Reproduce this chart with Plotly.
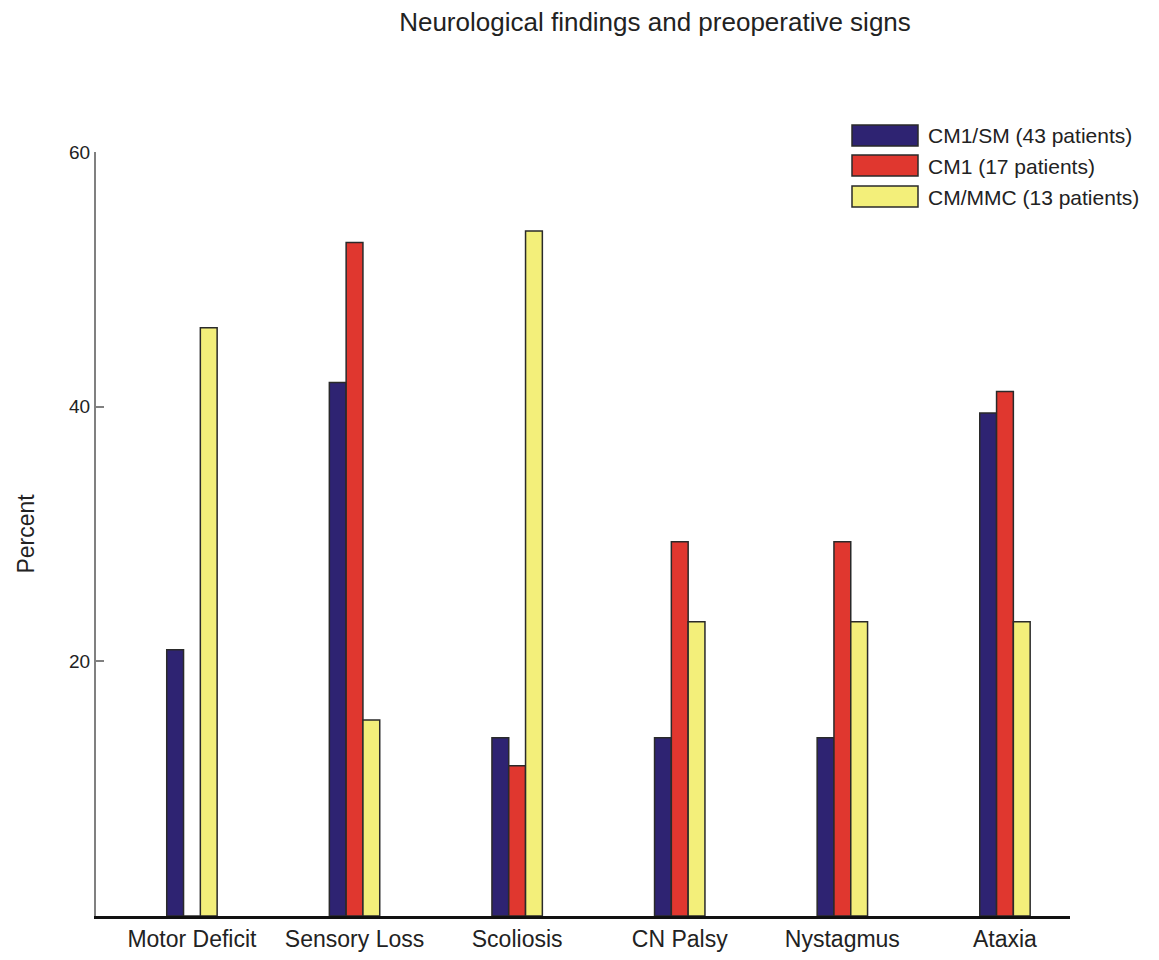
import plotly.graph_objects as go

categories = ["Motor Deficit", "Sensory Loss", "Scoliosis", "CN Palsy", "Nystagmus", "Ataxia"]
series_names = ["CM1/SM (43 patients)", "CM1 (17 patients)", "CM/MMC (13 patients)"]
cm1sm = [20.9, 41.9, 14.0, 14.0, 14.0, 39.5]
cm1 = [0, 52.9, 11.8, 29.4, 29.4, 41.2]
cmmmc = [46.2, 15.4, 53.8, 23.1, 23.1, 23.1]
colors = ["#2e2372", "#e0372f", "#f3ef7a"]
y_ticks = [20, 40, 60]

FONT = "Liberation Sans, Arial, sans-serif"
OFF = 8  # page body offset
L, R, T, B = 96 - OFF, 1159 - (1070 - OFF), 152 - OFF, 960 - (916 - OFF)
PW = 1159 - L - R
PH = 960 - T - B


def px(xs):
    return (xs - OFF - L) / PW


def py(ys):
    return (960 - B - (ys - OFF)) / PH


fig = go.Figure()
for name, vals, col in zip(series_names, [cm1sm, cm1, cmmmc], colors):
    fig.add_trace(go.Bar(
        x=categories, y=vals, name=name,
        marker=dict(color=col, line=dict(color="#2a2a2a", width=1.5)),
        showlegend=False,
    ))

# custom legend (wide swatches like the reference)
leg_tops = [125, 155, 186]
for top, name, col in zip(leg_tops, series_names, colors):
    fig.add_shape(type="rect", xref="paper", yref="paper",
                  x0=px(852), x1=px(918), y0=py(top + 21), y1=py(top),
                  fillcolor=col, line=dict(color="#2a2a2a", width=1.5))
    fig.add_annotation(xref="paper", yref="paper",
                       x=px(926), y=py(top + 11),
                       text=name, showarrow=False, xanchor="left", yanchor="middle",
                       font=dict(family=FONT, size=21, color="#222"))

fig.update_layout(
    width=1159, height=960,
    paper_bgcolor="white", plot_bgcolor="white",
    margin=dict(l=L, r=R, t=T, b=B),
    barmode="group", bargap=0.69, bargroupgap=0,
    title=dict(text="Neurological findings and preoperative signs",
               x=(655 - OFF) / 1159, xanchor="center", y=1 - (22 - OFF) / 960, yanchor="middle",
               font=dict(family=FONT, size=26, color="#222")),
    font=dict(family=FONT, size=23, color="#222"),
)
fig.update_xaxes(
    type="category", range=[-0.59, 5.40],
    showline=True, linecolor="#111", linewidth=3,
    showgrid=False, ticks="", tickfont=dict(size=23),
    zeroline=False,
)
fig.update_yaxes(
    range=[0, 60], tickvals=y_ticks, ticktext=[str(v) for v in y_ticks],
    showline=True, linecolor="#808080", linewidth=2,
    ticks="inside", ticklen=8, tickcolor="#808080", tickwidth=2,
    showgrid=False, zeroline=False,
    title=dict(text="Percent", font=dict(size=23), standoff=28),
    tickfont=dict(size=19),
)
fig.write_html("out.html")
